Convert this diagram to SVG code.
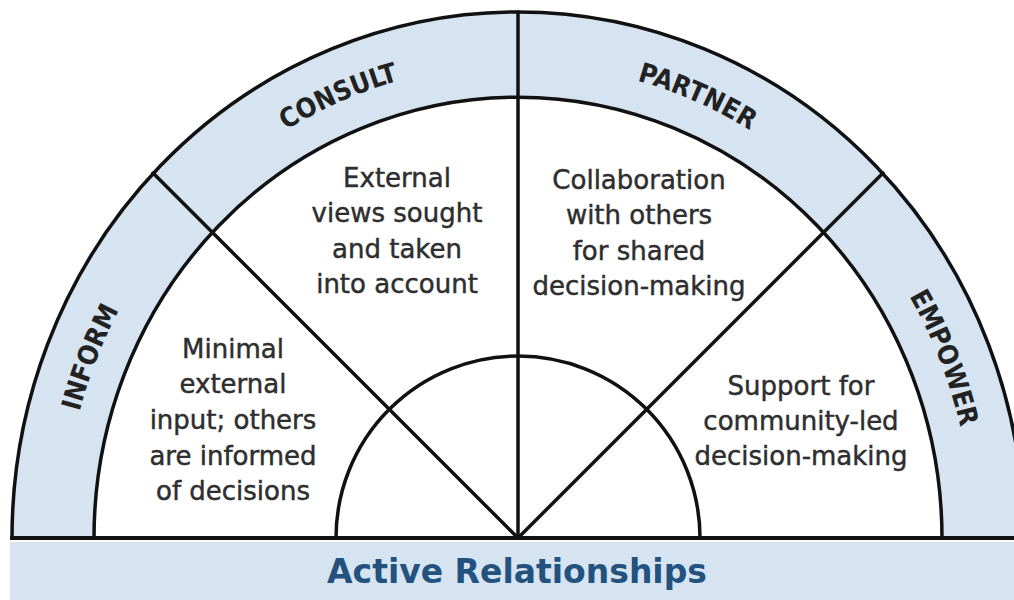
<svg xmlns="http://www.w3.org/2000/svg" width="1014" height="600" viewBox="0 0 1014 600">
<style>
.ln{fill:none;stroke:#111;stroke-width:3.5;stroke-linecap:round}
.body{font-family:"DejaVu Sans",Verdana,sans-serif;font-size:26px;fill:#2e2e2e;stroke:#2e2e2e;stroke-width:0.45;text-anchor:middle}
.lab{font-family:"DejaVu Sans Condensed","DejaVu Sans",sans-serif;font-weight:bold;font-size:27px;fill:#222;text-anchor:middle}
</style>
<defs>
<path id="mid" d="M 63 538 A 455 474 0 0 1 973 538"/>
</defs>
<rect width="1014" height="600" fill="#fff"/>
<g id="bar">
<rect x="10" y="542" width="1004" height="58" fill="#d6e4f2"/>
<text x="517" y="583" font-family="DejaVu Sans,Verdana,sans-serif" font-size="33" font-weight="bold" fill="#24527f" text-anchor="middle">Active Relationships</text>
</g>
<g id="band">
<path d="M 12 538 A 506 526 0 0 1 1024 538 Z" fill="#d6e4f2" stroke="#111" stroke-width="3.5"/>
<path d="M 94 538 A 424 441 0 0 1 942 538 Z" fill="#fff" stroke="#111" stroke-width="3.5"/>
</g>
<g id="core">
<path class="ln" d="M 336 538 A 182 182 0 0 1 700 538"/>
</g>
<g id="connectors">
<path class="ln" d="M 518 538 L 518 12"/>
<path class="ln" d="M 518 538 L 153 173"/>
<path class="ln" d="M 518 538 L 883 173"/>
<path d="M 10 538 L 1014 538" stroke="#111" stroke-width="4"/>
</g>
<g id="inform">
<text class="lab"><textPath href="#mid" startOffset="12.5%">INFORM</textPath></text>
<text class="body"><tspan x="233" y="358">Minimal</tspan><tspan x="233" y="393">external</tspan><tspan x="233" y="429">input; others</tspan><tspan x="233" y="465">are informed</tspan><tspan x="233" y="500">of decisions</tspan></text>
</g>
<g id="consult">
<text class="lab"><textPath href="#mid" startOffset="37.5%">CONSULT</textPath></text>
<text class="body"><tspan x="397" y="187">External</tspan><tspan x="397" y="222">views sought</tspan><tspan x="397" y="258">and taken</tspan><tspan x="397" y="293">into account</tspan></text>
</g>
<g id="partner">
<text class="lab"><textPath href="#mid" startOffset="62.5%">PARTNER</textPath></text>
<text class="body"><tspan x="639" y="189">Collaboration</tspan><tspan x="639" y="224">with others</tspan><tspan x="639" y="260">for shared</tspan><tspan x="639" y="295">decision-making</tspan></text>
</g>
<g id="empower">
<text class="lab"><textPath href="#mid" startOffset="87.5%">EMPOWER</textPath></text>
<text class="body"><tspan x="801" y="395">Support for</tspan><tspan x="801" y="430">community-led</tspan><tspan x="801" y="465">decision-making</tspan></text>
</g>
</svg>
